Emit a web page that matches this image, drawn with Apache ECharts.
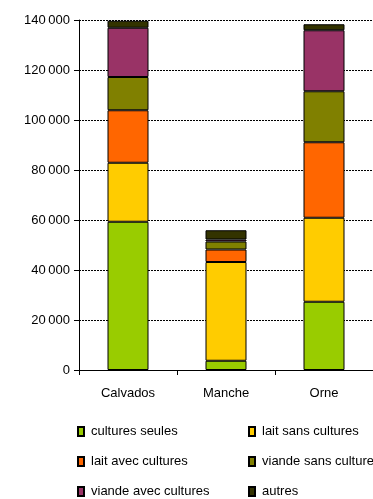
<!DOCTYPE html>
<html>
<head>
<meta charset="utf-8">
<script src="https://cdn.jsdelivr.net/npm/echarts@6/dist/echarts.min.js"></script>
<style>
  html, body { margin: 0; padding: 0; background: #fff; }
  #chart { width: 373px; height: 499px; }
</style>
</head>
<body>
<div id="chart"></div>
<script>
// Departements
const categories = ['Calvados', 'Manche', 'Orne'];

// Surface by farm type (stacked)
const culturesSeules = [59300, 3700, 27300];
const laitSansCultures = [23600, 39500, 33600];
const laitAvecCultures = [21000, 5000, 30200];
const viandeSansCultures = [13300, 3200, 20400];
const viandeAvecCultures = [19700, 800, 24400];
const autres = [2800, 3700, 2400];

const yTicks = [0, 20000, 40000, 60000, 80000, 100000, 120000, 140000];

const seriesDefs = [
  { name: 'cultures seules', data: culturesSeules, color: '#99CC00' },
  { name: 'lait sans cultures', data: laitSansCultures, color: '#FFCC00' },
  { name: 'lait avec cultures', data: laitAvecCultures, color: '#FF6600' },
  { name: 'viande sans cultures', data: viandeSansCultures, color: '#808000' },
  { name: 'viande avec cultures', data: viandeAvecCultures, color: '#993366' },
  { name: 'autres', data: autres, color: '#333300' }
];

const fmt = v => {
  const s = String(v);
  return s.length > 3 ? s.slice(0, s.length - 3) + '\u2009' + s.slice(-3) : s;
};

const font = 'Liberation Sans, Arial, sans-serif';
const chart = echarts.init(document.getElementById('chart'), null, { renderer: 'canvas' });

// Legend: two columns, three rows, one entry per legend box
const legendCols = [77, 248];
const legendRows = [425, 455, 485];
const legends = seriesDefs.map((s, i) => ({
  left: legendCols[i % 2],
  top: legendRows[Math.floor(i / 2)],
  data: [s.name],
  itemWidth: 6,
  itemHeight: 9,
  icon: 'rect',
  padding: 0,
  selectedMode: false,
  textStyle: { fontFamily: font, fontSize: 13, color: '#000', padding: [0, 0, 0, 2] }
}));

chart.setOption({
  animation: false,
  backgroundColor: '#fff',
  grid: { left: 79, top: 20, width: 297, height: 350 },
  legend: legends,
  xAxis: {
    type: 'category',
    data: categories,
    axisLine: { lineStyle: { color: '#000', width: 1 } },
    axisTick: { show: true, length: 5, alignWithLabel: false, lineStyle: { color: '#000' } },
    axisLabel: { fontFamily: font, fontSize: 13, color: '#000', margin: 17 }
  },
  yAxis: {
    type: 'value',
    min: yTicks[0],
    max: yTicks[yTicks.length - 1],
    interval: yTicks[1] - yTicks[0],
    axisLine: { show: true, lineStyle: { color: '#000', width: 1 } },
    axisTick: { show: true, length: 5, lineStyle: { color: '#000' } },
    axisLabel: { fontFamily: font, fontSize: 13, color: '#000', margin: 9, formatter: fmt },
    splitLine: { show: true, lineStyle: { color: '#000', width: 1, type: [2, 1] } }
  },
  series: seriesDefs.map(s => ({
    name: s.name,
    type: 'bar',
    stack: 'total',
    data: s.data,
    barWidth: 41,
    itemStyle: { color: s.color, borderColor: '#000', borderWidth: 1 }
  }))
});
</script>
</body>
</html>
